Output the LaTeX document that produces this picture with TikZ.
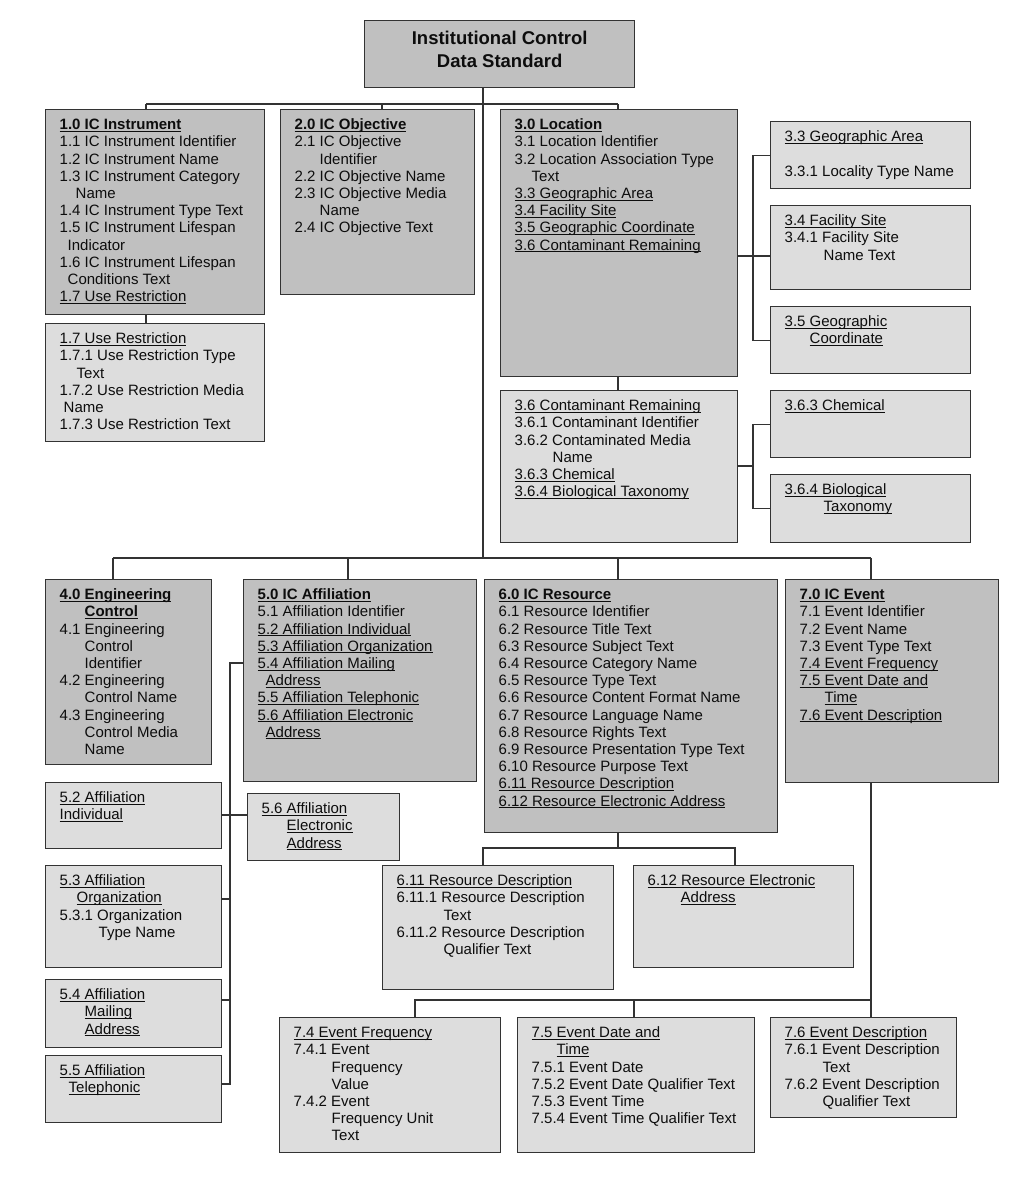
\documentclass[tikz,border=0pt]{standalone}
\usepackage{fontspec}
\setmainfont{Liberation Sans}
\definecolor{boxdark}{HTML}{C0C0C0}
\definecolor{boxlight}{HTML}{DDDDDD}
\newcommand{\undr}[1]{\leavevmode\setbox0\hbox{#1}\rlap{\rule[-2pt]{\wd0}{0.9pt}}\box0}
\newcommand{\entries}[3]{\parbox[t][\dimexpr#2-16pt\relax][t]{#1}{\raggedright\leftskip=14pt\strut#3}}

\begin{document}
\begin{tikzpicture}[x=1pt, y=-1pt,
    wire/.style={draw=black!80, line width=1.2pt},
    hdr/.style={draw=black!80, line width=1.4pt, fill=boxdark, anchor=north west,
        inner xsep=0pt, inner ysep=8pt, text=black!95, font=\fontsize{15}{17.2}\selectfont},
    sub/.style={hdr, fill=boxlight},
    root/.style={hdr, minimum width=270pt, minimum height=67pt, align=center,
        font=\fontsize{18.5}{23}\selectfont\bfseries}]
    \useasboundingbox (0,0) rectangle (1024,1177);

    \node[root] (root) at (364,20) {Institutional Control\\Data Standard\rule[-9pt]{0pt}{9pt}};

    \node[hdr] (n10) at (45,109) {\entries{219pt}{205pt}{%
        \textbf{\undr{1.0 IC Instrument}}\\
        1.1 IC Instrument Identifier\\
        1.2 IC Instrument Name\\
        1.3 IC Instrument Category\\
        \hspace*{16pt}Name\\
        1.4 IC Instrument Type Text\\
        1.5 IC Instrument Lifespan\\
        \hspace*{8pt}Indicator\\
        1.6 IC Instrument Lifespan\\
        \hspace*{8pt}Conditions Text\\
        \undr{1.7 Use Restriction}}};
    \node[hdr] (n20) at (280,109) {\entries{194pt}{185pt}{%
        \textbf{\undr{2.0 IC Objective}}\\
        2.1 IC Objective\\
        \hspace*{25pt}Identifier\\
        2.2 IC Objective Name\\
        2.3 IC Objective Media\\
        \hspace*{25pt}Name\\
        2.4 IC Objective Text}};
    \node[hdr] (n30) at (500,109) {\entries{237pt}{267pt}{%
        \textbf{\undr{3.0 Location}}\\
        3.1 Location Identifier\\
        3.2 Location Association Type\\
        \hspace*{17pt}Text\\
        \undr{3.3 Geographic Area}\\
        \undr{3.4 Facility Site}\\
        \undr{3.5 Geographic Coordinate}\\
        \undr{3.6 Contaminant Remaining}}};
    \node[sub] (n33) at (770,121) {\entries{200pt}{67pt}{%
        \undr{3.3 Geographic Area}\\
        \mbox{}\\
        3.3.1 Locality Type Name}};
    \node[sub] (n34) at (770,205) {\entries{200pt}{84pt}{%
        \undr{3.4 Facility Site}\\
        3.4.1 Facility Site\\
        \hspace*{39pt}Name Text}};
    \node[sub] (n35) at (770,306) {\entries{200pt}{67pt}{%
        \undr{3.5 Geographic}\\
        \hspace*{25pt}\undr{Coordinate}}};
    \node[sub] (n36) at (500,390) {\entries{237pt}{152pt}{%
        \undr{3.6 Contaminant Remaining}\\
        3.6.1 Contaminant Identifier\\
        3.6.2 Contaminated Media\\
        \hspace*{38pt}Name\\
        \undr{3.6.3 Chemical}\\
        \undr{3.6.4 Biological Taxonomy}}};
    \node[sub] (n363) at (770,390) {\entries{200pt}{67pt}{%
        \undr{3.6.3 Chemical}}};
    \node[sub] (n364) at (770,474) {\entries{200pt}{68pt}{%
        \undr{3.6.4 Biological}\\
        \hspace*{39pt}\undr{Taxonomy}}};
    \node[sub] (n17) at (45,323) {\entries{219pt}{118pt}{%
        \undr{1.7 Use Restriction}\\
        1.7.1 Use Restriction Type\\
        \hspace*{17pt}Text\\
        1.7.2 Use Restriction Media\\
        \hspace*{4pt}Name\\
        1.7.3 Use Restriction Text}};

    \node[hdr] (n40) at (45,579) {\entries{166pt}{185pt}{%
        \textbf{\undr{4.0 Engineering}}\\
        \hspace*{25pt}\textbf{\undr{Control}}\\
        4.1 Engineering\\
        \hspace*{25pt}Control\\
        \hspace*{25pt}Identifier\\
        4.2 Engineering\\
        \hspace*{25pt}Control Name\\
        4.3 Engineering\\
        \hspace*{25pt}Control Media\\
        \hspace*{25pt}Name}};
    \node[hdr] (n50) at (243,579) {\entries{233pt}{202pt}{%
        \textbf{\undr{5.0 IC Affiliation}}\\
        5.1 Affiliation Identifier\\
        \undr{5.2 Affiliation Individual}\\
        \undr{5.3 Affiliation Organization}\\
        \undr{5.4 Affiliation Mailing}\\
        \hspace*{8pt}\undr{Address}\\
        \undr{5.5 Affiliation Telephonic}\\
        \undr{5.6 Affiliation Electronic}\\
        \hspace*{8pt}\undr{Address}}};
    \node[hdr] (n60) at (484,579) {\entries{293pt}{253pt}{%
        \textbf{\undr{6.0 IC Resource}}\\
        6.1 Resource Identifier\\
        6.2 Resource Title Text\\
        6.3 Resource Subject Text\\
        6.4 Resource Category Name\\
        6.5 Resource Type Text\\
        6.6 Resource Content Format Name\\
        6.7 Resource Language Name\\
        6.8 Resource Rights Text\\
        6.9 Resource Presentation Type Text\\
        6.10 Resource Purpose Text\\
        \undr{6.11 Resource Description}\\
        \undr{6.12 Resource Electronic Address}}};
    \node[hdr] (n70) at (785,579) {\entries{213pt}{203pt}{%
        \textbf{\undr{7.0 IC Event}}\\
        7.1 Event Identifier\\
        7.2 Event Name\\
        7.3 Event Type Text\\
        \undr{7.4 Event Frequency}\\
        \undr{7.5 Event Date and}\\
        \hspace*{25pt}\undr{Time}\\
        \undr{7.6 Event Description}}};

    \node[sub] (n52) at (45,782) {\entries{176pt}{66pt}{%
        \undr{5.2 Affiliation}\\
        \undr{Individual}}};
    \node[sub] (n56) at (247,793) {\entries{152pt}{67pt}{%
        \undr{5.6 Affiliation}\\
        \hspace*{25pt}\undr{Electronic}\\
        \hspace*{25pt}\undr{Address}}};
    \node[sub] (n53) at (45,865) {\entries{176pt}{102pt}{%
        \undr{5.3 Affiliation}\\
        \hspace*{17pt}\undr{Organization}\\
        5.3.1 Organization\\
        \hspace*{39pt}Type Name}};
    \node[sub] (n54) at (45,979) {\entries{176pt}{68pt}{%
        \undr{5.4 Affiliation}\\
        \hspace*{25pt}\undr{Mailing}\\
        \hspace*{25pt}\undr{Address}}};
    \node[sub] (n55) at (45,1055) {\entries{176pt}{67pt}{%
        \undr{5.5 Affiliation}\\
        \hspace*{9pt}\undr{Telephonic}}};

    \node[sub] (n611) at (382,865) {\entries{231pt}{124pt}{%
        \undr{6.11 Resource Description}\\
        6.11.1 Resource Description\\
        \hspace*{47pt}Text\\
        6.11.2 Resource Description\\
        \hspace*{47pt}Qualifier Text}};
    \node[sub] (n612) at (633,865) {\entries{220pt}{102pt}{%
        \undr{6.12 Resource Electronic}\\
        \hspace*{33pt}\undr{Address}}};

    \node[sub] (n74) at (279,1017) {\entries{221pt}{135pt}{%
        \undr{7.4 Event Frequency}\\
        7.4.1 Event\\
        \hspace*{38pt}Frequency\\
        \hspace*{38pt}Value\\
        7.4.2 Event\\
        \hspace*{38pt}Frequency Unit\\
        \hspace*{38pt}Text}};
    \node[sub] (n75) at (517,1017) {\entries{237pt}{135pt}{%
        \undr{7.5 Event Date and}\\
        \hspace*{25pt}\undr{Time}\\
        7.5.1 Event Date\\
        7.5.2 Event Date Qualifier Text\\
        7.5.3 Event Time\\
        7.5.4 Event Time Qualifier Text}};
    \node[sub] (n76) at (770,1017) {\entries{186pt}{100pt}{%
        \undr{7.6 Event Description}\\
        7.6.1 Event Description\\
        \hspace*{38pt}Text\\
        7.6.2 Event Description\\
        \hspace*{38pt}Qualifier Text}};

    \coordinate (t1) at (146,104);
    \coordinate (t2) at (382,104);
    \coordinate (t3) at (618,104);
    \coordinate (trunk) at (483,558);
    \coordinate (m1) at (113,558);
    \coordinate (m2) at (348,558);
    \coordinate (m3) at (618,558);
    \coordinate (m4) at (871,558);
    \draw[wire] (root.south -| trunk) -- (trunk);
    \draw[wire] (t1) -- (t3);
    \draw[wire] (m1) -- (m4);
    \foreach \c/\n in {t1/n10, t2/n20, t3/n30, m1/n40, m2/n50, m3/n60, m4/n70}
        \draw[wire] (\c) -- (\c |- \n.north);
    \draw[wire] (t1 |- n10.south) -- (t1 |- n17.north);
    \draw[wire] (t3 |- n30.south) -- (t3 |- n36.north);

    \coordinate (s34) at (753,256);
    \coordinate (s36) at (753,466);
    \draw[wire] (n33.west) -| (s34) |- (n35.west);
    \draw[wire] (n30.east |- s34) -- (n34.west |- s34);
    \draw[wire] (n363.west) -| (s36) |- (n364.west);
    \draw[wire] (n36.east |- s36) -- (s36);

    \coordinate (v1) at (230,663);
    \coordinate (v2) at (230,815);
    \coordinate (v3) at (230,899);
    \coordinate (v4) at (230,1000);
    \coordinate (v5) at (230,1084);
    \draw[wire] (n50.west |- v1) -- (v1) -- (v5) -- (v5 -| n55.east);
    \draw[wire] (v2 -| n52.east) -- (v2 -| n56.west);
    \draw[wire] (v3) -- (v3 -| n53.east);
    \draw[wire] (v4) -- (v4 -| n54.east);

    \coordinate (k0) at (618,848);
    \coordinate (k1) at (483,848);
    \coordinate (k2) at (735,848);
    \draw[wire] (k0 |- n60.south) -- (k0);
    \draw[wire] (k1 |- n611.north) -- (k1) -- (k2) -- (k2 |- n612.north);

    \coordinate (e1) at (415,1000);
    \coordinate (e2) at (634,1000);
    \coordinate (e3) at (871,1000);
    \draw[wire] (m4 |- n70.south) -- (m4 |- n76.north);
    \draw[wire] (e1 |- n74.north) -- (e1) -- (e3);
    \draw[wire] (e2) -- (e2 |- n75.north);
\end{tikzpicture}
\end{document}
